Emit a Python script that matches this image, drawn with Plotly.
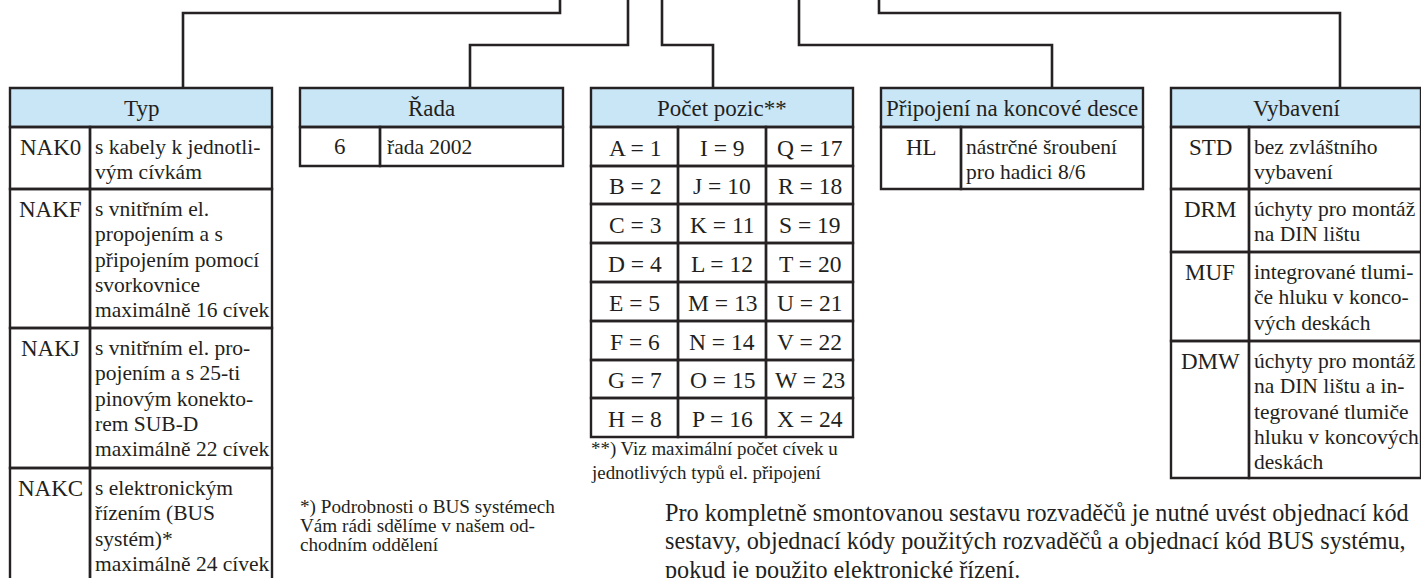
import plotly.graph_objects as go

# ---------------- data ----------------
headers = ["Typ", "Řada", "Počet pozic**", "Připojení na koncové desce", "Vybavení"]

typ_codes = ["NAK0", "NAKF", "NAKJ", "NAKC"]
typ_desc = [
    ["s kabely k jednotli-", "vým cívkám"],
    ["s vnitřním el.", "propojením a s", "připojením pomocí", "svorkovnice", "maximálně 16 cívek"],
    ["s vnitřním el. pro-", "pojením a s 25-ti", "pinovým konekto-", "rem SUB-D", "maximálně 22 cívek"],
    ["s elektronickým", "řízením (BUS", "systém)*", "maximálně 24 cívek"],
]

rada_codes = ["6"]
rada_desc = [["řada 2002"]]

pozic_letters = ["A", "B", "C", "D", "E", "F", "G", "H",
                 "I", "J", "K", "L", "M", "N", "O", "P",
                 "Q", "R", "S", "T", "U", "V", "W", "X"]
pozic_values = [1, 2, 3, 4, 5, 6, 7, 8,
                9, 10, 11, 12, 13, 14, 15, 16,
                17, 18, 19, 20, 21, 22, 23, 24]

pripojeni_codes = ["HL"]
pripojeni_desc = [["nástrčné šroubení", "pro hadici 8/6"]]

vybaveni_codes = ["STD", "DRM", "MUF", "DMW"]
vybaveni_desc = [
    ["bez zvláštního", "vybavení"],
    ["úchyty pro montáž", "na DIN lištu"],
    ["integrované tlumi-", "če hluku v konco-", "vých deskách"],
    ["úchyty pro montáž", "na DIN lištu a in-", "tegrované tlumiče", "hluku v koncových", "deskách"],
]

footnote_bus = ["*) Podrobnosti o BUS systémech", "Vám rádi sdělíme v našem od-", "chodním oddělení"]
footnote_pozic = ["**) Viz maximální počet cívek u", "jednotlivých typů el. připojení"]
body_text = ["Pro kompletně smontovanou sestavu rozvaděčů je nutné uvést objednací kód",
             "sestavy, objednací kódy použitých rozvaděčů a objednací kód BUS systému,",
             "pokud je použito elektronické řízení."]

# ---------------- layout / style ----------------
W, H = 1421, 578
LINE = "#262223"
TEXT = "#231F20"
HEAD_FILL = "#C9E6F7"
FONT = "Liberation Serif"
HEAD_SIZE = 23
CODE_SIZE = 23
GRID_SIZE = 23.5
DESC_SIZE = 21.5
LINE_H = 25.3
FIRST_OFF = 20

tables = [
    dict(title=headers[0], cols=[10, 90, 272], rows=[88, 127, 189, 328, 468, 600],
         codes=typ_codes, desc=typ_desc),
    dict(title=headers[1], cols=[300, 380, 563], rows=[88, 127, 166],
         codes=rada_codes, desc=rada_desc),
    dict(title=headers[3], cols=[881, 961, 1143], rows=[88, 127, 189],
         codes=pripojeni_codes, desc=pripojeni_desc),
    dict(title=headers[4], cols=[1171, 1249, 1421], rows=[88, 127, 189, 252, 341, 478],
         codes=vybaveni_codes, desc=vybaveni_desc),
]
pozic_cols = [591, 678, 766, 853]
pozic_rows = [88, 127, 166, 204, 243, 282, 321, 360, 398, 437]

connectors = [
    [(183, 88), (183, 13), (560, 13), (560, -5)],
    [(470, 88), (470, 45), (628, 45), (628, -5)],
    [(662, -5), (662, 45), (713, 45), (713, 88)],
    [(799, -5), (799, 45), (1052, 45), (1052, 88)],
    [(879, -5), (879, 13), (1340, 13), (1340, 88)],
]

fig = go.Figure()
shapes = []
ann = []


def add_text(x, y, s, size, xanchor="left"):
    ann.append(dict(x=x, y=y, xref="x", yref="y", text=s, showarrow=False,
                    xanchor=xanchor, yanchor="middle", borderpad=0,
                    font=dict(family=FONT, size=size, color=TEXT)))


def rect(x0, y0, x1, y1, fill=None):
    shapes.append(dict(type="rect", xref="x", yref="y", x0=x0, y0=y0, x1=x1, y1=y1,
                       line=dict(color=LINE, width=2.4),
                       fillcolor=fill if fill else "rgba(0,0,0,0)", layer="above"))


# connectors
for pts in connectors:
    path = "M " + " L ".join(f"{x},{y}" for x, y in pts)
    shapes.append(dict(type="path", xref="x", yref="y", path=path,
                       line=dict(color=LINE, width=2.6)))

# code/description tables
for t in tables:
    c0, c1, c2 = t["cols"]
    r = t["rows"]
    rect(c0, r[0], c2, r[1], HEAD_FILL)
    add_text((c0 + c2) / 2, (r[0] + r[1]) / 2 + 1, t["title"], HEAD_SIZE, "center")
    for i, (code, lines) in enumerate(zip(t["codes"], t["desc"])):
        top, bot = r[i + 1], r[i + 2]
        rect(c0, top, c1, bot)
        rect(c1, top, c2, bot)
        if len(lines) == 1:
            yc = (top + bot) / 2
            add_text((c0 + c1) / 2, yc, code, CODE_SIZE, "center")
            add_text(c1 + 6, yc, lines[0], DESC_SIZE)
            continue
        add_text((c0 + c1) / 2, top + FIRST_OFF, code, CODE_SIZE, "center")
        for j, ln in enumerate(lines):
            add_text(c1 + 4, top + FIRST_OFF + j * LINE_H, ln, DESC_SIZE)

# počet pozic grid
rect(pozic_cols[0], pozic_rows[0], pozic_cols[-1], pozic_rows[1], HEAD_FILL)
add_text((pozic_cols[0] + pozic_cols[-1]) / 2, (pozic_rows[0] + pozic_rows[1]) / 2 + 1,
         headers[2], HEAD_SIZE, "center")
n_rows = len(pozic_rows) - 2
for k, (letter, val) in enumerate(zip(pozic_letters, pozic_values)):
    ci, ri = k // n_rows, k % n_rows
    x0, x1 = pozic_cols[ci], pozic_cols[ci + 1]
    y0, y1 = pozic_rows[ri + 1], pozic_rows[ri + 2]
    rect(x0, y0, x1, y1)
    add_text((x0 + x1) / 2, (y0 + y1) / 2 + 1, f"{letter} = {val}", GRID_SIZE, "center")

# footnotes and body text
for j, ln in enumerate(footnote_pozic):
    add_text(590, 449 + j * 23.5, ln, 18.9)
for j, ln in enumerate(footnote_bus):
    add_text(299, 507 + j * 18.8, ln, 19.2)
for j, ln in enumerate(body_text):
    add_text(664, 512 + j * 28.7, ln, 24.2)

fig.update_layout(
    width=W, height=H, margin=dict(l=0, r=0, t=0, b=0),
    paper_bgcolor="white", plot_bgcolor="white",
    xaxis=dict(range=[0, W], visible=False, fixedrange=True),
    yaxis=dict(range=[H, 0], visible=False, fixedrange=True),
    shapes=shapes, annotations=ann, showlegend=False,
)
fig.write_html("out.html", config={"displayModeBar": False},
               post_script="document.body.style.margin='0';document.body.style.overflow='hidden';")
